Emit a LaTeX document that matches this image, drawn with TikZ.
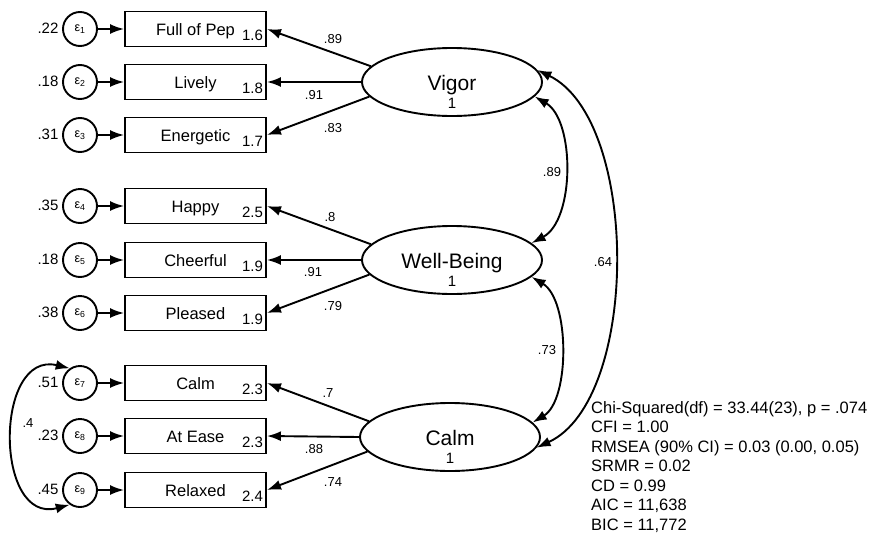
\documentclass[tikz,border=0pt]{standalone}
\usepackage{fontspec}
\setmainfont{Liberation Sans}
\usetikzlibrary{arrows.meta,shapes.geometric}
\begin{document}
\begin{tikzpicture}[x=1pt,y=-1pt,
 lw/.style={line width=1.9pt},
 obs/.style={draw,lw,minimum width=141pt,minimum height=35pt,inner sep=0pt,text height=12pt,text depth=0pt,font=\fontsize{16.5}{18}\selectfont},
 err/.style={draw,circle,lw,minimum size=34pt,inner sep=0pt,font=\fontsize{12.5}{13}\selectfont},
 lat/.style={draw,ellipse,lw,minimum width=180pt,minimum height=68pt,inner sep=0pt},
 latname/.style={anchor=base,inner sep=0pt,font=\fontsize{21}{22}\selectfont},
 latvar/.style={anchor=base,inner sep=0pt,font=\fontsize{15}{16}\selectfont},
 arr/.style={lw,-{Latex[length=14pt,width=10pt]}},
 darr/.style={lw,{Latex[length=14pt,width=10pt]}-{Latex[length=14pt,width=10pt]}},
 coef/.style={font=\fontsize{13}{14}\selectfont,inner sep=0pt},
 mean/.style={font=\fontsize{15}{16}\selectfont,inner sep=0pt},
 errv/.style={font=\fontsize{15}{16}\selectfont,inner sep=0pt},
 stats/.style={align=left,anchor=north west,inner sep=0pt,font=\fontsize{16.5}{19.5}\selectfont},
]
\useasboundingbox (0,0) rectangle (885,538);
\fill[white] (0,0) rectangle (885,538);

% rows
\foreach \n/\y/\name/\m/\ev in {1/29/Full of Pep/1.6/.22, 2/82/Lively/1.8/.18, 3/135/Energetic/1.7/.31,
  4/206/Happy/2.5/.35, 5/260/Cheerful/1.9/.18, 6/313/Pleased/1.9/.38,
  7/383/Calm/2.3/.51, 8/436/At Ease/2.3/.23, 9/490/Relaxed/2.4/.45}{
  \node[obs] (b\n) at (195.5,\y) {\name};
  \node[err] (e\n) at (80,\y) {ε\textsubscript{\n}};
  \node[mean] (m\n) at (252.5,\y+6) {\m};
  \node[errv] (v\n) at (48,\y-1) {\ev};
  \draw[arr] (e\n) -- (b\n);
}

% latent variables
\node[lat] (V) at (452,82) {};
\node[lat] (W) at (452,260) {};
\node[lat] (C) at (450,437) {};
\node[latname] (Vn) at (452,90) {Vigor};
\node[latvar] (Vv) at (452,108) {1};
\node[latname] (Wn) at (452,268) {Well-Being};
\node[latvar] (Wv) at (452,286) {1};
\node[latname] (Cn) at (450,445) {Calm};
\node[latvar] (Cv) at (450,463) {1};

% loadings
\draw[arr] (V.169.6) -- (b1.east);
\draw[arr] (V.180) -- (b2.east);
\draw[arr] (V.190) -- (b3.east);
\draw[arr] (W.169.6) -- (b4.east);
\draw[arr] (W.180) -- (b5.east);
\draw[arr] (W.190) -- (b6.east);
\draw[arr] (C.169.6) -- (b7.east);
\draw[arr] (C.180) -- (b8.east);
\draw[arr] (C.190) -- (b9.east);

\node[coef] (l1) at (333,39) {.89};
\node[coef] (l2) at (314,95) {.91};
\node[coef] (l3) at (333,128) {.83};
\node[coef] (l4) at (330,217) {.8};
\node[coef] (l5) at (313,272) {.91};
\node[coef] (l6) at (333,306) {.79};
\node[coef] (l7) at (328,393) {.7};
\node[coef] (l8) at (314,449) {.88};
\node[coef] (l9) at (333,482) {.74};

% covariances
\draw[darr] (V.-10) .. controls (575,120) and (575,220) .. (W.12);
\draw[darr] (W.-12) .. controls (570,300) and (570,400) .. (C.10);
\draw[darr] (V.8) .. controls (640,120) and (640,400) .. (C.-7);
\draw[darr] (e7.125) .. controls (-6,350) and (-6,525) .. (e9.235);

\node[coef] (c1) at (552,172) {.89};
\node[coef] (c2) at (547,350) {.73};
\node[coef] (c3) at (603,262) {.64};
\node[coef] (c4) at (28,423) {.4};

% fit statistics
\node[stats] (fit) at (591,401) {Chi-Squared(df) = 33.44(23), p = .074\\
CFI = 1.00\\
RMSEA (90\% CI) = 0.03 (0.00, 0.05)\\
SRMR = 0.02\\
CD = 0.99\\
AIC = 11,638\\
BIC = 11,772};
\end{tikzpicture}
\end{document}
